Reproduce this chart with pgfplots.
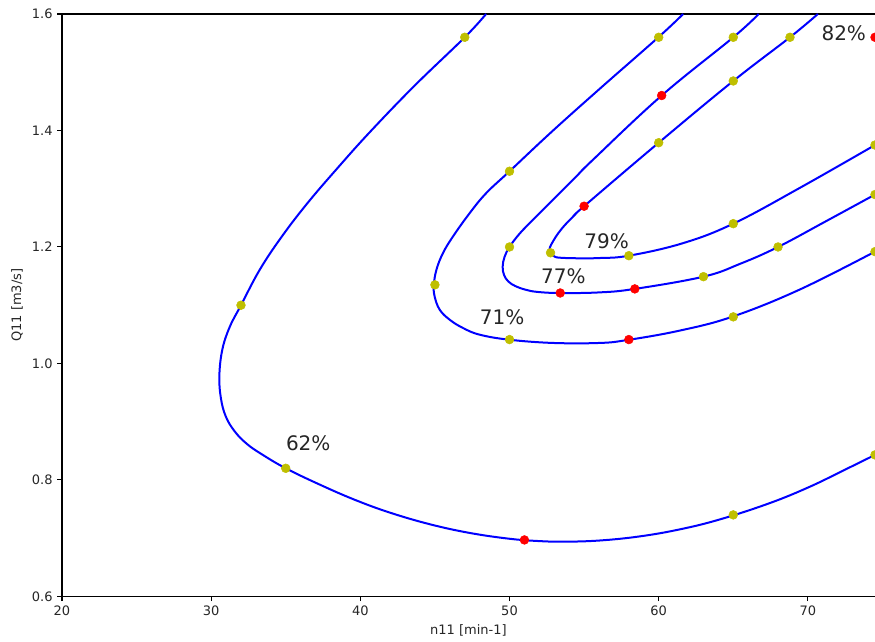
\documentclass[border=0pt]{standalone}
\usepackage{fontspec}
\setmainfont{DejaVu Sans}
\usepackage{pgfplots}
\pgfplotsset{compat=1.18}
\definecolor{mblue}{rgb}{0,0,1}
\definecolor{myel}{rgb}{0.75,0.75,0}
\definecolor{mred}{rgb}{1,0,0}
\begin{document}
\begin{tikzpicture}
\begin{axis}[
  width=610pt, height=437pt, scale only axis,
  xmin=20, xmax=74.5, ymin=0.6, ymax=1.6,
  axis lines*=left,
  axis line style={line width=0.8pt, black},
  xtick={20,30,40,50,60,70},
  ytick={0.6,0.8,1.0,1.2,1.4,1.6},
  yticklabel style={/pgf/number format/.cd, fixed, fixed zerofill, precision=1},
  /pgf/number format/assume math mode=true,
  tick align=outside,
  major tick length=3.5pt,
  tick style={black, line width=0.8pt},
  ticklabel style={font=\fontsize{9.75}{11.7}\selectfont, text=black!85},
  label style={font=\fontsize{9.75}{11.7}\selectfont, text=black!85},
  xlabel={n11 [min-1]},
  ylabel={Q11 [m3/s]},
  clip marker paths=true,
]
\draw[black, line width=0.8pt] (rel axis cs:0,1) -- (rel axis cs:1,1);

% 62%
\addplot[mblue, line width=1.5pt, smooth, tension=0.65] coordinates {
(48.43,1.600)(47.0,1.560)(43.64,1.477)(40.63,1.397)(38.49,1.336)(36.48,1.276)(34.74,1.218)
(33.26,1.161)(32.0,1.100)(31.25,1.063)(30.75,1.024)(30.55,0.979)(30.65,0.941)(30.98,0.909)
(31.59,0.883)(32.39,0.862)(33.40,0.844)(35.0,0.820)(37.28,0.792)(39.62,0.766)(41.97,0.744)
(44.65,0.724)(47.33,0.709)(50.01,0.699)(52.02,0.695)(53.69,0.694)(56.03,0.696)(58.71,0.703)
(61.39,0.715)(64.07,0.732)(67.42,0.760)(70.10,0.788)(72.44,0.817)(74.5,0.843)
};
% 71%
\addplot[mblue, line width=1.5pt, smooth, tension=0.65] coordinates {
(61.64,1.600)(60.0,1.5605)(56.04,1.4714)(52.82,1.3976)(50.0,1.3299)(48.44,1.2925)(47.33,1.2581)
(46.21,1.2180)(45.54,1.1895)(45.10,1.1609)(44.93,1.1346)(44.98,1.1151)(45.32,1.0923)(45.99,1.0751)
(46.88,1.0609)(48.00,1.0494)(49.97,1.0408)(52.91,1.0352)(56.04,1.0352)(57.84,1.0400)(61.39,1.0563)
(64.94,1.0803)(69.43,1.1266)(74.5,1.192)
};
% 77%
\addplot[mblue, line width=1.5pt, smooth, tension=0.65] coordinates {
(66.70,1.600)(65.0,1.560)(60.2,1.460)(55.59,1.3496)(54.47,1.3209)(53.36,1.2925)(52.24,1.2638)
(51.35,1.2410)(50.61,1.2209)(50.0,1.200)(49.67,1.1832)(49.54,1.1660)(49.64,1.1515)(49.94,1.1403)
(50.41,1.1326)(51.08,1.1266)(51.88,1.1228)(53.40,1.1209)(56.03,1.1220)(58.4,1.128)(63.0,1.149)
(65.45,1.171)(68.0,1.200)(71.2,1.244)(74.5,1.290)
};
% 79%
\addplot[mblue, line width=1.5pt, smooth, tension=0.65] coordinates {
(70.67,1.600)(68.8,1.560)(65.0,1.485)(60.0,1.379)(55.0,1.270)(54.36,1.2544)(53.79,1.2398)
(53.29,1.2244)(52.92,1.2098)(52.71,1.1995)(52.66,1.1935)(52.79,1.1875)(53.02,1.1835)(53.36,1.1816)
(54.49,1.1806)(56.03,1.1810)(58.0,1.185)(61.60,1.2063)(65.0,1.240)(69.43,1.301)(74.5,1.375)
};

% yellow points
\addplot[only marks, mark=*, mark size=3.3pt, color=myel, mark options={draw=myel, fill=myel}] coordinates {
(47,1.56)(32,1.10)(35,0.82)(65,0.74)(74.5,0.843)
(60,1.56)(50,1.33)(45,1.135)(50,1.041)(65,1.08)(74.5,1.192)
(65,1.56)(50,1.20)(63,1.149)(68,1.20)(74.5,1.29)
(68.8,1.56)(65,1.485)(60,1.379)(52.75,1.19)(58,1.185)(65,1.24)(74.5,1.375)
};
% red points
\addplot[only marks, mark=*, mark size=3.3pt, color=mred, mark options={draw=mred, fill=mred}] coordinates {
(51,0.697)(58,1.041)(60.2,1.46)(53.4,1.121)(58.4,1.128)(55,1.27)(74.5,1.56)
};

\node[anchor=base west, inner sep=0pt, font=\fontsize{15}{18}\selectfont, text=black!85] at (axis cs:35,0.85) {62\%};
\node[anchor=base west, inner sep=0pt, font=\fontsize{15}{18}\selectfont, text=black!85] at (axis cs:48,1.067) {71\%};
\node[anchor=base west, inner sep=0pt, font=\fontsize{15}{18}\selectfont, text=black!85] at (axis cs:52.1,1.137) {77\%};
\node[anchor=base west, inner sep=0pt, font=\fontsize{15}{18}\selectfont, text=black!85] at (axis cs:55,1.197) {79\%};
\node[anchor=base west, inner sep=0pt, font=\fontsize{15}{18}\selectfont, text=black!85] at (axis cs:70.9,1.555) {82\%};
\end{axis}
\pgfresetboundingbox
\path ([xshift=-46.5pt,yshift=-33.75pt]current axis.south west) rectangle ([yshift=10.5pt]current axis.north east);
\end{tikzpicture}
\end{document}
